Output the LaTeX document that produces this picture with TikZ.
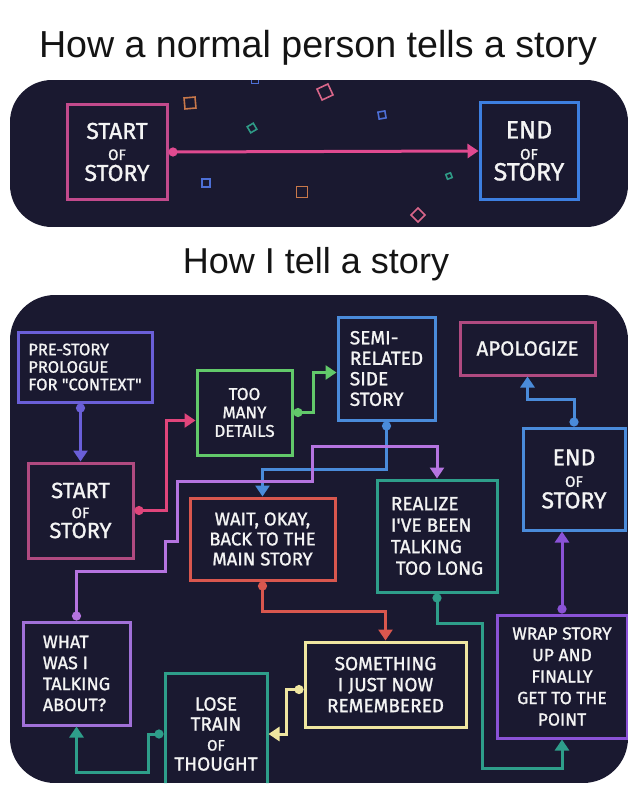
\documentclass[tikz,border=0pt]{standalone}
\usepackage{fontspec}
\setmainfont{Liberation Sans}
\newfontfamily\hand{Fira Sans}[FakeBold=1.2]
\usepackage{xcolor}
\usetikzlibrary{arrows.meta}
\definecolor{panelbg}{HTML}{1A1930}
\definecolor{titlec}{HTML}{141414}
\definecolor{chalk}{HTML}{F4F4F4}
\definecolor{tstartc}{HTML}{C24A8C}
\definecolor{tarrowc}{HTML}{E04A90}
\definecolor{tendc}{HTML}{3D7FE0}
\definecolor{confo}{HTML}{C8784A}
\definecolor{confp}{HTML}{D9668A}
\definecolor{confb}{HTML}{4D6FD6}
\definecolor{conft}{HTML}{2F9A86}
\definecolor{prec}{HTML}{6A5FD8}
\definecolor{mauvec}{HTML}{B04A80}
\definecolor{pinkc}{HTML}{E0457B}
\definecolor{greenc}{HTML}{62C96A}
\definecolor{bluec}{HTML}{4A8BDA}
\definecolor{redc}{HTML}{D9574E}
\definecolor{tealc}{HTML}{2E9E8A}
\definecolor{lilacc}{HTML}{A070D8}
\definecolor{violetc}{HTML}{B574E0}
\definecolor{yellowc}{HTML}{EFE6A0}
\definecolor{purplec}{HTML}{8A52D6}
\tikzset{
  bx/.style={line width=3pt,inner sep=0pt,text=chalk,align=center},
  lb/.style 2 args={font=\hand\fontsize{#1}{#2}\selectfont},
  cn/.style={line width=3pt,{Circle[length=9pt]}-{Triangle[length=11pt,width=14pt]}},
  cf/.style={line width=1.6pt}
}
\newcommand{\sm}[1]{{\fontsize{15}{15}\selectfont #1}}

\begin{document}
\begin{tikzpicture}[x=1pt,y=-1pt]
\useasboundingbox (0,0) rectangle (640,800);
\fill[white] (0,0) rectangle (640,800);
\node[anchor=base,font=\fontsize{37.6}{40}\selectfont,text=titlec] (title1) at (318,58) {How a normal person tells a story};
\node[anchor=base,font=\fontsize{36}{40}\selectfont,text=titlec] (title2) at (316,273) {How I tell a story};

% normal story
\begin{scope}
\clip[rounded corners=42pt] (10,80) rectangle (628,227);
\fill[panelbg] (10,80) rectangle (628,227);
\foreach \cx/\cy/\s/\r/\c in {190/103/11/5/confo,325/92/12/25/confp,382/115/7/10/confb,252/128/7/30/conft,
  206/183/8/0/confb,302/192/11/0/confo,449/176/5/20/conft,418/215/10/45/confp,255/80/7/0/confb}
  \draw[cf,\c,rotate around={\r:(\cx,\cy)}] ({\cx-\s/2},{\cy-\s/2}) rectangle ++(\s,\s);
\end{scope}
\node[bx,draw=tstartc,minimum width=100pt,minimum height=95pt,lb={23}{21}] (tstart) at (117,152) {START\\\sm{OF}\\STORY};
\node[bx,draw=tendc,minimum width=98pt,minimum height=97pt,lb={25}{21}] (tend) at (529,151) {END\\\sm{OF}\\STORY};
\draw[cn,tarrowc] (tstart.east) -- (tend.west);

% my story
\begin{scope}
\clip[rounded corners=45pt] (10,295) rectangle (628,783);
\fill[panelbg] (10,295) rectangle (628,783);
\node[bx,draw=prec,minimum width=134pt,minimum height=70pt,align=left,lb={16.5}{17.5}] (pre) at (85,367) {PRE-STORY\\PROLOGUE\\FOR "CONTEXT"};
\node[bx,draw=greenc,minimum width=95pt,minimum height=85pt,lb={17}{18.5}] (toomany) at (244.5,412.5) {TOO\\MANY\\DETAILS};
\node[bx,draw=bluec,minimum width=97pt,minimum height=103pt,align=left,lb={19}{20.5}] (semi) at (386.5,368.5) {SEMI-\\RELATED\\SIDE\\STORY};
\node[bx,draw=mauvec,minimum width=135pt,minimum height=53pt,lb={20.5}{20}] (apolog) at (527.5,348.5) {APOLOGIZE};
\node[bx,draw=mauvec,minimum width=105pt,minimum height=95pt,lb={22}{20}] (startb) at (80.5,510.5) {START\\\sm{OF}\\STORY};
\node[bx,draw=redc,minimum width=145pt,minimum height=82pt,lb={18.5}{20}] (wait) at (262.5,539) {WAIT, OKAY,\\BACK TO THE\\MAIN STORY};
\node[bx,draw=tealc,minimum width=120pt,minimum height=112pt,align=left,lb={19}{21.5}] (realize) at (437,536) {REALIZE\\I'VE BEEN\\TALKING\\\ TOO LONG};
\node[bx,draw=bluec,minimum width=102pt,minimum height=102pt,lb={23}{21.5}] (endb) at (574,479) {END\\\sm{OF}\\STORY};
\node[bx,draw=lilacc,minimum width=107pt,minimum height=103pt,align=left,lb={18}{21}] (what) at (76.5,673.5) {WHAT\\WAS I\\TALKING\\ABOUT?};
\node[bx,draw=tealc,minimum width=102pt,minimum height=122pt,lb={19}{20}] (lose) at (216,734) {LOSE\\TRAIN\\\sm{OF}\\THOUGHT};
\node[bx,draw=yellowc,minimum width=161pt,minimum height=85pt,lb={19}{21}] (something) at (385.5,684.5) {SOMETHING\\I JUST NOW\\REMEMBERED};
\node[bx,draw=purplec,minimum width=130pt,minimum height=123pt,lb={17.5}{21.5}] (wrap) at (562,676.5) {WRAP STORY\\UP AND\\FINALLY\\GET TO THE\\POINT};
\draw[cn,prec] (startb.north |- pre.south) -- (startb.north);
\draw[cn,pinkc] (startb.east) -- ++(32,0) |- ([yshift=-8pt]toomany.west);
\draw[cn,greenc] (toomany.east) -- ++(20,0) |- ([yshift=-4pt]semi.west);
\draw[cn,bluec] (semi.south) -- ++(0,48) -| (wait.north);
\draw[cn,bluec] (endb.north) -- ++(0,-27) -| (apolog.south);
\draw[cn,purplec] (wrap.north) -- (wrap.north |- endb.south);
\draw[cn,tealc] (realize.south) -- ++(0,30) -- ++(45,0) -- ++(0,145) -| (wrap.south);
\draw[cn,redc] (wait.south) -- ++(0,30) -| (something.north);
\draw[cn,yellowc] ([yshift=-5pt]something.west) -- ++(-17,0) |- (lose.east);
\draw[cn,tealc] (lose.west) -- ++(-15,0) -- ++(0,38) -| (what.south);
\draw[cn,violetc] (what.north) -- ++(0,-49) -- ++(89,0) -- ++(0,-30) -- ++(12,0) -- ++(0,-60) -- ++(135,0) -- ++(0,-35) -| (realize.north);
\end{scope}
\end{tikzpicture}
\end{document}
